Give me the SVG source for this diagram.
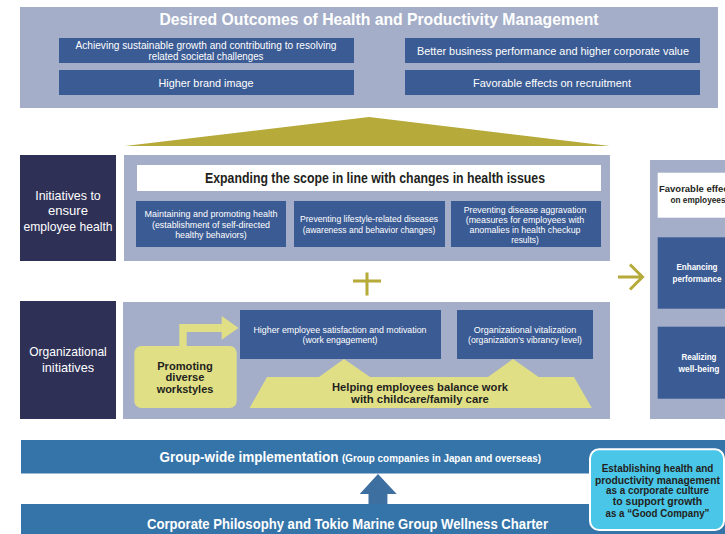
<svg xmlns="http://www.w3.org/2000/svg" width="725" height="534" viewBox="0 0 725 534">
<style>
.panel{fill:#a4aec8}
.navy{fill:#2e3056}
.blue{fill:#3b5b94}
.yel{fill:#e0df86}
.bar{fill:#3474a9}
text{font-family:"Liberation Sans",Arial,sans-serif;text-anchor:middle}
.w{fill:#ffffff}
.d{fill:#231f20}
.b{font-weight:bold}
</style>
<rect width="725" height="534" fill="#ffffff"/>

<g id="outcomes">
<rect class="panel" x="20" y="7" width="698" height="101"/>
<text class="w b" x="379" y="25" font-size="17" textLength="439" lengthAdjust="spacingAndGlyphs">Desired Outcomes of Health and Productivity Management</text>
</g>
<g id="outcome-1">
<rect class="blue" x="59" y="38" width="295" height="25"/>
<text class="w" x="206" y="49" font-size="10" textLength="261" lengthAdjust="spacingAndGlyphs">Achieving sustainable growth and contributing to resolving</text>
<text class="w" x="206" y="60" font-size="10" textLength="115" lengthAdjust="spacingAndGlyphs">related societal challenges</text>
</g>
<g id="outcome-2">
<rect class="blue" x="405" y="38" width="295" height="25"/>
<text class="w" x="553" y="54.5" font-size="11" textLength="272" lengthAdjust="spacingAndGlyphs">Better business performance and higher corporate value</text>
</g>
<g id="outcome-3">
<rect class="blue" x="59" y="70" width="295" height="25"/>
<text class="w" x="206" y="86.5" font-size="11" textLength="95" lengthAdjust="spacingAndGlyphs">Higher brand image</text>
</g>
<g id="outcome-4">
<rect class="blue" x="405" y="70" width="295" height="25"/>
<text class="w" x="552" y="86.5" font-size="11" textLength="158" lengthAdjust="spacingAndGlyphs">Favorable effects on recruitment</text>
</g>

<g id="roof">
<polygon points="369,117 610,146 125,146" fill="#b5aa3a"/>
</g>

<g id="initiatives-health">
<rect class="navy" x="20" y="155" width="96" height="106"/>
<text class="w" x="68" y="199.5" font-size="13" textLength="65.6" lengthAdjust="spacingAndGlyphs">Initiatives to</text>
<text class="w" x="68" y="215" font-size="13" textLength="40" lengthAdjust="spacingAndGlyphs">ensure</text>
<text class="w" x="68" y="230.5" font-size="13" textLength="89" lengthAdjust="spacingAndGlyphs">employee health</text>
</g>
<g id="health-panel">
<rect class="panel" x="124" y="155" width="486" height="106"/>
<rect x="137" y="165" width="464" height="26" fill="#ffffff"/>
<text class="d b" x="375" y="182.5" font-size="14" textLength="340" lengthAdjust="spacingAndGlyphs">Expanding the scope in line with changes in health issues</text>
</g>
<g id="health-a">
<rect class="blue" x="136" y="201" width="150" height="46"/>
<text class="w" x="211" y="216.5" font-size="9" textLength="133" lengthAdjust="spacingAndGlyphs">Maintaining and promoting health</text>
<text class="w" x="211" y="227.5" font-size="9" textLength="118" lengthAdjust="spacingAndGlyphs">(establishment of self-directed</text>
<text class="w" x="211" y="238.3" font-size="9" textLength="71.6" lengthAdjust="spacingAndGlyphs">healthy behaviors)</text>
</g>
<g id="health-b">
<rect class="blue" x="294" y="201" width="151" height="46"/>
<text class="w" x="369" y="222.2" font-size="9" textLength="138" lengthAdjust="spacingAndGlyphs">Preventing lifestyle-related diseases</text>
<text class="w" x="369" y="232.5" font-size="9" textLength="132.7" lengthAdjust="spacingAndGlyphs">(awareness and behavior changes)</text>
</g>
<g id="health-c">
<rect class="blue" x="451" y="201" width="150" height="46"/>
<text class="w" x="525" y="212.5" font-size="9" textLength="122.5" lengthAdjust="spacingAndGlyphs">Preventing disease aggravation</text>
<text class="w" x="525" y="222.5" font-size="9" textLength="118.5" lengthAdjust="spacingAndGlyphs">(measures for employees with</text>
<text class="w" x="525" y="232.5" font-size="9" textLength="111" lengthAdjust="spacingAndGlyphs">anomalies in health checkup</text>
<text class="w" x="525" y="242.5" font-size="9" textLength="27.7" lengthAdjust="spacingAndGlyphs">results)</text>
</g>

<g id="connectors" stroke="#b5aa3a" stroke-width="3" fill="none">
<path d="M353,281 H381 M367,272.5 V295.5"/>
<path d="M618,277 H642 M630,264.5 L642.5,277 L630,289.5"/>
</g>

<g id="initiatives-org">
<rect class="navy" x="20" y="301" width="96" height="118"/>
<text class="w" x="68" y="356" font-size="13" textLength="77.6" lengthAdjust="spacingAndGlyphs">Organizational</text>
<text class="w" x="68" y="372" font-size="13" textLength="52" lengthAdjust="spacingAndGlyphs">initiatives</text>
</g>
<g id="org-panel">
<rect class="panel" x="123" y="302" width="487" height="117"/>
</g>
<g id="satisfaction">
<rect class="blue" x="240" y="310" width="201" height="49"/>
<text class="w" x="340" y="332.5" font-size="9" textLength="173" lengthAdjust="spacingAndGlyphs">Higher employee satisfaction and motivation</text>
<text class="w" x="340" y="343.2" font-size="9" textLength="75" lengthAdjust="spacingAndGlyphs">(work engagement)</text>
</g>
<g id="vitalization">
<rect class="blue" x="457" y="310" width="136" height="49"/>
<text class="w" x="525" y="332.5" font-size="9" textLength="102.6" lengthAdjust="spacingAndGlyphs">Organizational vitalization</text>
<text class="w" x="525" y="343.2" font-size="9" textLength="114" lengthAdjust="spacingAndGlyphs">(organization’s vibrancy level)</text>
</g>
<g id="balance">
<polygon class="yel" points="249.6,408 267,377 319,377 344,359 370,377 488,377 513,359 538.6,377 574,377 591.8,408"/>
<text class="d b" x="420" y="390.5" font-size="11.5" textLength="176" lengthAdjust="spacingAndGlyphs">Helping employees balance work</text>
<text class="d b" x="420" y="402.8" font-size="11.5" textLength="137.8" lengthAdjust="spacingAndGlyphs">with childcare/family care</text>
</g>
<g id="workstyles">
<polygon class="yel" points="179.3,347 179.3,324 221.7,324 221.7,316 238.5,328 221.7,339.8 221.7,332 186.7,332 186.7,347"/>
<rect class="yel" x="134.3" y="346" width="102.4" height="62" rx="7"/>
<text class="d b" x="185" y="369.5" font-size="11" textLength="55.6" lengthAdjust="spacingAndGlyphs">Promoting</text>
<text class="d b" x="185" y="381" font-size="11" textLength="39" lengthAdjust="spacingAndGlyphs">diverse</text>
<text class="d b" x="185" y="392.5" font-size="11" textLength="56.7" lengthAdjust="spacingAndGlyphs">workstyles</text>
</g>

<g id="effects-panel">
<rect class="panel" x="650" y="160" width="80" height="259"/>
</g>
<g id="effects-employees">
<rect x="657.7" y="172.7" width="70" height="45" fill="#ffffff"/>
<text class="d b" x="698" y="192" font-size="9" textLength="78" lengthAdjust="spacingAndGlyphs">Favorable effects</text>
<text class="d b" x="698" y="203" font-size="9" textLength="55" lengthAdjust="spacingAndGlyphs">on employees</text>
</g>
<g id="performance">
<rect class="blue" x="657.7" y="237.3" width="70" height="71.4"/>
<text class="w b" x="697" y="270" font-size="9" textLength="41" lengthAdjust="spacingAndGlyphs">Enhancing</text>
<text class="w b" x="697" y="281.5" font-size="9" textLength="49" lengthAdjust="spacingAndGlyphs">performance</text>
</g>
<g id="wellbeing">
<rect class="blue" x="657.7" y="326.7" width="70" height="72"/>
<text class="w b" x="699" y="360" font-size="9" textLength="35" lengthAdjust="spacingAndGlyphs">Realizing</text>
<text class="w b" x="699" y="371.5" font-size="9" textLength="41" lengthAdjust="spacingAndGlyphs">well-being</text>
</g>

<g id="group-wide">
<rect class="bar" x="21" y="440" width="704" height="33.5"/>
<text class="w b" x="159.5" y="462" font-size="14" style="text-anchor:start" textLength="179" lengthAdjust="spacingAndGlyphs">Group-wide implementation</text>
<text class="w b" x="342" y="462" font-size="10" style="text-anchor:start" textLength="199" lengthAdjust="spacingAndGlyphs">(Group companies in Japan and overseas)</text>
</g>
<g id="up-arrow">
<polygon points="378,474 396.7,494 387.4,494 387.4,504 368.5,504 368.5,494 359.7,494" fill="#3d6fa0"/>
</g>
<g id="charter">
<rect class="bar" x="21" y="504" width="704" height="30"/>
<text class="w b" x="347.5" y="529" font-size="14" textLength="401" lengthAdjust="spacingAndGlyphs">Corporate Philosophy and Tokio Marine Group Wellness Charter</text>
</g>
<g id="culture">
<rect x="590" y="449.3" width="134" height="80.7" rx="9" fill="#4ac6e8" stroke="#ffffff" stroke-width="2"/>
<text class="d b" x="657.5" y="472" font-size="10.5" textLength="111.7" lengthAdjust="spacingAndGlyphs">Establishing health and</text>
<text class="d b" x="657.5" y="483.5" font-size="10.5" textLength="125" lengthAdjust="spacingAndGlyphs">productivity management</text>
<text class="d b" x="657.5" y="494" font-size="10.5" textLength="103" lengthAdjust="spacingAndGlyphs">as a corporate culture</text>
<text class="d b" x="657.5" y="505.3" font-size="10.5" textLength="89.3" lengthAdjust="spacingAndGlyphs">to support growth</text>
<text class="d b" x="657.5" y="516.8" font-size="10.5" textLength="104" lengthAdjust="spacingAndGlyphs">as a “Good Company”</text>
</g>
</svg>
